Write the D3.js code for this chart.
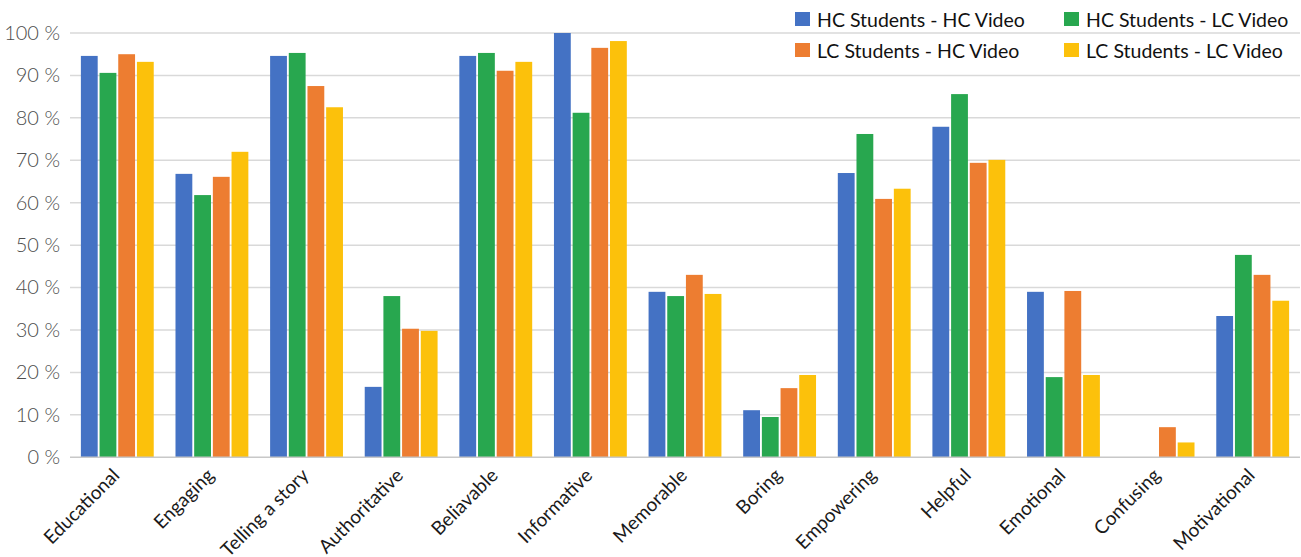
<!DOCTYPE html>
<html>
<head>
<meta charset="utf-8">
<script src="https://cdn.jsdelivr.net/npm/d3@7"></script>
<style>
  html, body { margin: 0; padding: 0; background: #fff; }
  svg { display: block; font-family: Lato, "Open Sans", sans-serif; }
</style>
</head>
<body>
<svg id="chart" width="1301" height="557"></svg>
<script>
// Perceived attributes of the videos, share of respondents per group
const categories = ["Educational", "Engaging", "Telling a story", "Authoritative", "Beliavable",
  "Informative", "Memorable", "Boring", "Empowering", "Helpful", "Emotional", "Confusing", "Motivational"];

const seriesNames = ["HC Students - HC Video", "HC Students - LC Video",
  "LC Students - HC Video", "LC Students - LC Video"];

const hcStudentsHcVideo = [94.6, 66.8, 94.6, 16.6, 94.6, 100, 39.0, 11.1, 67.0, 77.9, 39.0, 0, 33.3];
const hcStudentsLcVideo = [90.6, 61.8, 95.3, 38.0, 95.3, 81.2, 38.0, 9.5, 76.2, 85.6, 18.9, 0, 47.7];
const lcStudentsHcVideo = [95.0, 66.1, 87.5, 30.3, 91.1, 96.5, 43.0, 16.3, 60.9, 69.4, 39.2, 7.1, 43.0];
const lcStudentsLcVideo = [93.2, 72.0, 82.5, 29.8, 93.2, 98.1, 38.5, 19.4, 63.3, 70.1, 19.4, 3.5, 36.9];

const yTicks = [0, 10, 20, 30, 40, 50, 60, 70, 80, 90, 100];
const colors = ["#4472C4", "#28A74F", "#ED7D31", "#FCC10B"];

const seriesValues = [hcStudentsHcVideo, hcStudentsLcVideo, lcStudentsHcVideo, lcStudentsLcVideo];
const rows = categories.map((c, i) => ({
  category: c,
  values: seriesNames.map((s, j) => ({ series: s, value: seriesValues[j][i] }))
}));

const svg = d3.select("#chart");
const margin = { top: 33, right: 1, bottom: 100, left: 70 };
const width = 1301, height = 557;
const plotBottom = 457.3;

const x0 = d3.scaleBand()
  .domain(categories)
  .range([margin.left, width - margin.right])
  .paddingInner(0.23)
  .paddingOuter(0.115);

const x1 = d3.scaleBand()
  .domain(seriesNames)
  .range([0, x0.bandwidth()])
  .paddingInner(0.1);

const y = d3.scaleLinear().domain([0, 100]).range([plotBottom, margin.top]);
const color = d3.scaleOrdinal().domain(seriesNames).range(colors);

// Horizontal gridlines
svg.append("g")
  .selectAll("line")
  .data(yTicks.filter(t => t > 0))
  .join("line")
  .attr("x1", margin.left)
  .attr("x2", width - margin.right)
  .attr("y1", d => y(d))
  .attr("y2", d => y(d))
  .attr("stroke", "#d9d9d9")
  .attr("stroke-width", 1.5);

// Y axis labels
const yAxis = d3.axisLeft(y).tickValues(yTicks).tickSize(0).tickPadding(10)
  .tickFormat(d => d + " %");
svg.append("g")
  .attr("transform", `translate(${margin.left},0)`)
  .call(yAxis)
  .call(g => g.select(".domain").remove())
  .call(g => g.selectAll("text")
    .attr("fill", "#4d4d4d")
    .attr("font-size", 20)
    .attr("font-family", "Lato, sans-serif")
    .attr("font-weight", 300));

// Bars
const groups = svg.append("g")
  .selectAll("g")
  .data(rows)
  .join("g")
  .attr("transform", d => `translate(${x0(d.category)},0)`);

groups.selectAll("rect")
  .data(d => d.values)
  .join("rect")
  .attr("x", d => x1(d.series))
  .attr("width", x1.bandwidth())
  .attr("y", d => y(d.value))
  .attr("height", d => y(0) - y(d.value))
  .attr("fill", d => color(d.series));

// Baseline
svg.append("line")
  .attr("x1", margin.left)
  .attr("x2", width - margin.right)
  .attr("y1", y(0))
  .attr("y2", y(0))
  .attr("stroke", "#c8c8c8")
  .attr("stroke-width", 1.5);

// Category labels, rotated
const xAxis = d3.axisBottom(x0).tickSize(0).tickPadding(0);
svg.append("g")
  .attr("transform", `translate(0,${y(0)})`)
  .call(xAxis)
  .call(g => g.select(".domain").remove())
  .call(g => g.selectAll("text")
    .attr("fill", "#1a1a1a")
    .attr("font-size", 19)
    .attr("font-family", "Lato, sans-serif")
    .attr("text-anchor", "end")
    .attr("dy", null)
    .attr("y", 0)
    .attr("x", 0)
    .attr("transform", "translate(-2,14) rotate(-45)")
    .attr("dominant-baseline", "central"));

// Legend
const legendItems = [
  { name: seriesNames[0], col: 0, row: 0 },
  { name: seriesNames[1], col: 1, row: 0 },
  { name: seriesNames[2], col: 0, row: 1 },
  { name: seriesNames[3], col: 1, row: 1 }
];
const legend = svg.append("g");
const leg = legend.selectAll("g")
  .data(legendItems)
  .join("g")
  .attr("transform", d => `translate(${795 + d.col * 269},${12 + d.row * 31})`);
leg.append("rect")
  .attr("width", 15)
  .attr("height", 14)
  .attr("fill", d => color(d.name));
leg.append("text")
  .attr("x", 22)
  .attr("y", 7)
  .attr("dominant-baseline", "central")
  .attr("font-size", 19.5)
  .attr("fill", "#111")
  .text(d => d.name);
</script>
</body>
</html>
